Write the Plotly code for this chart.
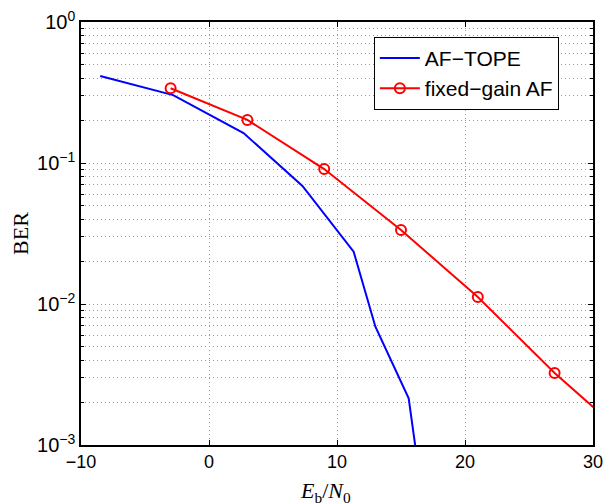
import plotly.graph_objects as go

# AF-TOPE curve
tope_snr = [-8.5, -2.8, 2.7, 7.3, 11.3, 13.0, 15.6, 16.9]
tope_ber = [0.414, 0.303, 0.163, 0.0687, 0.0235, 0.0069, 0.00214, 0.0003]

# fixed-gain AF curve
fg_snr = [-3, 3, 9, 15, 21, 27, 33]
fg_ber = [0.339, 0.202, 0.0906, 0.0335, 0.0112, 0.00324, 0.00107]

y_tickvals = [1e-3, 1e-2, 1e-1, 1]
y_ticktext = ["10<sup>−3</sup>", "10<sup>−2</sup>", "10<sup>−1</sup>", "10<sup>0</sup>"]
x_tickvals = [-10, 0, 10, 20, 30]
x_ticktext = ["−10", "0", "10", "20", "30"]

fig = go.Figure()
fig.add_trace(go.Scatter(
    x=tope_snr, y=tope_ber, mode="lines", name="AF−TOPE",
    line=dict(color="#0000ff", width=2),
))
fig.add_trace(go.Scatter(
    x=fg_snr, y=fg_ber, mode="lines+markers", name="fixed−gain AF",
    line=dict(color="#ff0000", width=2),
    marker=dict(symbol="circle-open", size=10, color="#ff0000", line=dict(width=2)),
))

grid = "#9a9a9a"
dots = "1px,3px"
serif = "Liberation Serif, Times New Roman"
# page body has an 8px margin, so the figure is shifted by 8px
fig.update_layout(
    width=597, height=496,
    margin=dict(l=73, r=12, t=14, b=59),
    paper_bgcolor="white", plot_bgcolor="white",
    font=dict(family="Liberation Sans, Arial", size=18, color="black"),
    showlegend=True,
    legend=dict(
        x=0.572, y=0.965, xanchor="left", yanchor="top",
        bordercolor="black", borderwidth=1, bgcolor="white",
        font=dict(size=21), tracegroupgap=0, itemwidth=40,
    ),
    xaxis=dict(
        range=[-10, 30], tickvals=x_tickvals, ticktext=x_ticktext,
        automargin=False, ticklabeloverflow="allow",
        showline=True, linecolor="black", linewidth=1.5, mirror="ticks",
        ticks="inside", ticklen=5, tickcolor="black",
        showgrid=True, gridcolor=grid, griddash=dots, gridwidth=1,
        zeroline=False,
    ),
    yaxis=dict(
        type="log", range=[-3, 0], tickvals=y_tickvals, ticktext=y_ticktext,
        tickfont=dict(size=20),
        automargin=False, ticklabeloverflow="allow",
        showline=True, linecolor="black", linewidth=1.5, mirror="ticks",
        ticks="inside", ticklen=5, tickcolor="black",
        showgrid=True, gridcolor=grid, griddash=dots, gridwidth=1,
        minor=dict(dtick="D1", showgrid=True, gridcolor=grid, griddash=dots,
                   ticks="inside", ticklen=3, tickcolor="black"),
        zeroline=False,
        title=dict(text="BER", font=dict(family=serif, size=22), standoff=5),
    ),
)

# x label as annotation so it sits like the original (slightly left of centre)
fig.add_annotation(
    text="<i>E</i><sub>b</sub>/<i>N</i><sub>0</sub>",
    xref="paper", yref="paper", x=0.477, y=0,
    xanchor="center", yanchor="top", yshift=-31, showarrow=False,
    font=dict(family=serif, size=22),
)

fig.write_html("out.html")
